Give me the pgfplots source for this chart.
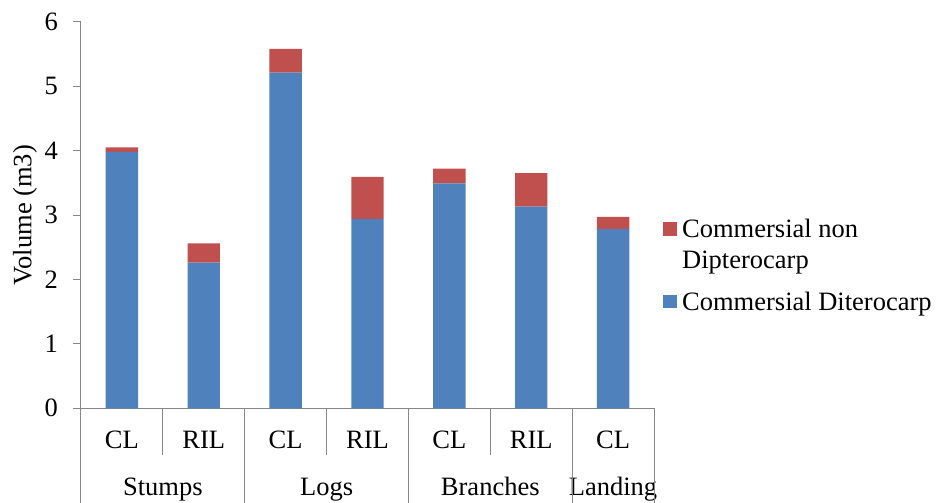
\documentclass[border=0pt]{standalone}
\usepackage{fontspec}
\setmainfont{Liberation Serif}
\usepackage{pgfplots}
\pgfplotsset{compat=1.18}
\definecolor{cblue}{HTML}{4F81BD}
\definecolor{cred}{HTML}{C0504D}
\definecolor{agray}{HTML}{868686}
\newcommand{\bigfont}{\fontsize{26.5bp}{31bp}\selectfont}
\begin{document}
\begin{tikzpicture}
\begin{axis}[
  width=573bp, height=386.6bp, scale only axis,
  xmin=-0.5, xmax=6.5, ymin=0, ymax=6,
  ybar stacked, bar width=32.4bp,
  axis x line*=bottom, axis y line*=left,
  axis line style={agray, line width=1bp},
  xtick={0,...,6}, xticklabels={CL,RIL,CL,RIL,CL,RIL,CL},
  ytick={0,...,6},
  tick align=outside,
  major tick length=8bp,
  ytick style={agray, line width=1bp},
  xtick style={draw=none},
  tick label style={font=\bigfont},
  xticklabel style={anchor=base, inner sep=0pt, yshift=-32bp},
  yticklabel style={anchor=east, inner sep=0pt},
  yticklabel shift=15bp,
  /pgf/number format/assume math mode=true,
  ylabel={Volume (m3)},
  every axis y label/.style={at={([xshift=-56bp]rel axis cs:0,0.5)}, rotate=90, anchor=center, font=\bigfont},
  clip=false,
  reverse legend,
  legend style={at={(axis description cs:1.0157,0.4897)}, anchor=north west, draw=none, fill=none,
    inner sep=0pt, font=\bigfont, row sep=22bp, column sep=0pt,
    nodes={inner sep=0pt, align=left}, cells={anchor=base west}},
]
\addplot[fill=cblue, draw=none, legend image code/.code={\fill[cblue] (0bp,2bp) rectangle (14bp,15.5bp); \path (19bp,0) ;}]
  coordinates {(0,3.98) (1,2.26) (2,5.21) (3,2.94) (4,3.49) (5,3.13) (6,2.78)};
\addlegendentry{Commersial Diterocarp}
\addplot[fill=cred, draw=none, legend image code/.code={\fill[cred] (0bp,33bp) rectangle (14bp,46.5bp); \path (19bp,0) ;}]
  coordinates {(0,0.07) (1,0.30) (2,0.37) (3,0.65) (4,0.23) (5,0.52) (6,0.19)};
\addlegendentry{Commersial non\\Dipterocarp}
\coordinate (O) at (axis cs:-0.5,0);
\pgfplotsinvokeforeach{0.5,2.5,4.5}{\draw[agray, line width=1bp] (axis cs:#1,0) -- ([yshift=-47bp]axis cs:#1,0);}
\pgfplotsinvokeforeach{-0.5,1.5,3.5,5.5,6.5}{\draw[agray, line width=1bp] (axis cs:#1,0) -- ([yshift=-95bp]axis cs:#1,0);}
\node[font=\bigfont, anchor=base, inner sep=0pt] at ([yshift=-87bp]axis cs:0.5,0) {Stumps};
\node[font=\bigfont, anchor=base, inner sep=0pt] at ([yshift=-87bp]axis cs:2.5,0) {Logs};
\node[font=\bigfont, anchor=base, inner sep=0pt] at ([yshift=-87bp]axis cs:4.5,0) {Branches};
\node[font=\bigfont, anchor=base, inner sep=0pt] at ([yshift=-87bp]axis cs:6,0) {Landing};
\end{axis}
\pgfresetboundingbox
\path ([shift={(-81bp,-94.7bp)}]O) rectangle ([shift={(855bp,408.3bp)}]O);
\end{tikzpicture}
\end{document}
